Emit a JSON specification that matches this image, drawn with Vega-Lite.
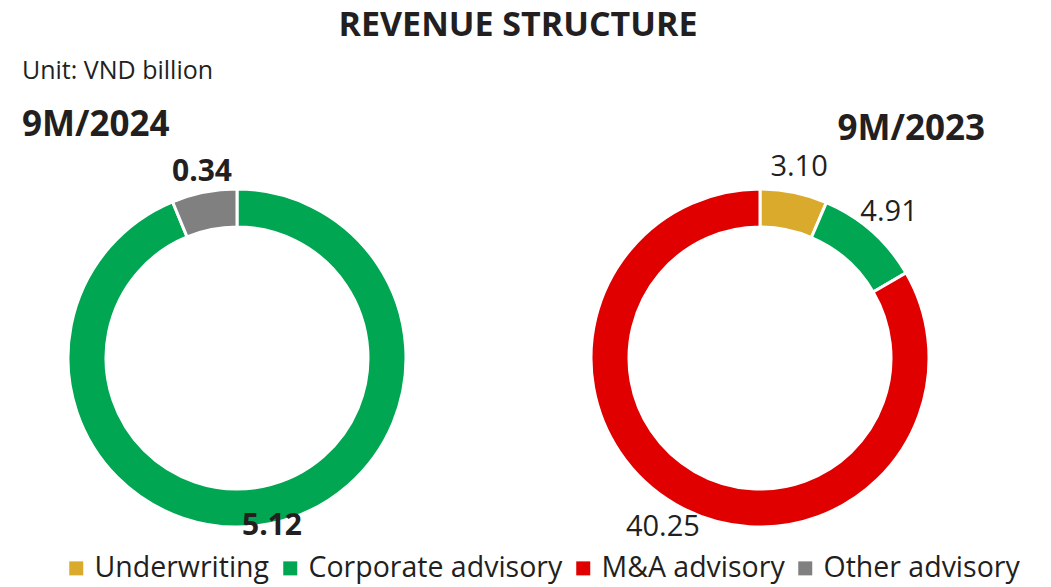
{
  "$schema": "https://vega.github.io/schema/vega-lite/v6.json",
  "autosize": {"type": "pad"},
  "padding": {"left": 22, "top": 9, "right": 0, "bottom": 6},
  "bounds": "flush",
  "spacing": 83,
  "background": "white",
  "title": {"text": "REVENUE STRUCTURE", "anchor": "middle", "font": "Open Sans", "fontSize": 34, "fontWeight": "bold", "color": "#231F20", "dx": -3, "offset": 16},
  "config": {"view": {"stroke": null}, "font": "Open Sans"},
  "datasets": {
    "rev": [
      {"period": "9M/2024", "segment": "Corporate advisory", "value": 5.12, "rank": 1},
      {"period": "9M/2024", "segment": "Other advisory", "value": 0.34, "rank": 2},
      {"period": "9M/2023", "segment": "Underwriting", "value": 3.10, "rank": 1},
      {"period": "9M/2023", "segment": "Corporate advisory", "value": 4.91, "rank": 2},
      {"period": "9M/2023", "segment": "M&A advisory", "value": 40.25, "rank": 3}
    ]
  },
  "hconcat": [
    {
      "width": 430,
      "height": 340,
      "data": {"name": "rev"},
      "transform": [{"filter": "datum.period === '9M/2024'"}],
      "title": {"text": "Unit: VND billion", "subtitle": "9M/2024", "anchor": "start", "font": "Open Sans", "fontSize": 25, "fontWeight": "normal", "color": "#231F20", "subtitleFont": "Open Sans", "subtitleFontSize": 35, "subtitleFontWeight": "bold", "subtitleColor": "#231F20", "subtitlePadding": 24, "offset": 14},
      "encoding": {
        "theta": {"field": "value", "type": "quantitative", "stack": true},
        "order": {"field": "rank", "type": "quantitative"}
      },
      "layer": [
        {
          "mark": {"type": "arc", "outerRadius": 169, "innerRadius": 131, "stroke": "white", "strokeWidth": 3},
          "encoding": {
            "color": {
              "field": "segment", "type": "nominal",
              "scale": {"domain": ["Underwriting", "Corporate advisory", "M&A advisory", "Other advisory"], "range": ["#DAAA2C", "#00A651", "#E00000", "#808080"]},
              "legend": {"orient": "none", "legendX": 40, "legendY": 366, "direction": "horizontal", "columns": 4, "title": null, "symbolType": "square", "symbolSize": 196, "symbolStrokeWidth": 0, "labelFont": "Open Sans", "labelFontSize": 28.5, "labelColor": "#231F20", "labelLimit": 400, "labelOffset": 4, "columnPadding": 6}
            }
          }
        },
        {
          "mark": {"type": "text", "radius": 180, "baseline": "alphabetic", "font": "Open Sans", "fontSize": 30, "fontWeight": "bold", "color": "#231F20"},
          "encoding": {
            "detail": {"field": "segment", "type": "nominal"},
            "text": {"field": "value", "type": "quantitative", "format": ".2f"}
          }
        }
      ]
    },
    {
      "width": 450,
      "height": 340,
      "data": {"name": "rev"},
      "transform": [{"filter": "datum.period === '9M/2023'"}],
      "title": {"text": "9M/2023", "anchor": "end", "font": "Open Sans", "fontSize": 35, "fontWeight": "bold", "color": "#231F20", "offset": 6},
      "encoding": {
        "theta": {"field": "value", "type": "quantitative", "stack": true},
        "order": {"field": "rank", "type": "quantitative"}
      },
      "layer": [
        {
          "mark": {"type": "arc", "outerRadius": 169, "innerRadius": 131, "stroke": "white", "strokeWidth": 3},
          "encoding": {
            "color": {
              "field": "segment", "type": "nominal",
              "scale": {"domain": ["Underwriting", "Corporate advisory", "M&A advisory", "Other advisory"], "range": ["#DAAA2C", "#00A651", "#E00000", "#808080"]},
              "legend": {"orient": "none", "legendX": 40, "legendY": 366, "direction": "horizontal", "columns": 4, "title": null, "symbolType": "square", "symbolSize": 196, "symbolStrokeWidth": 0, "labelFont": "Open Sans", "labelFontSize": 28.5, "labelColor": "#231F20", "labelLimit": 400, "labelOffset": 4, "columnPadding": 6}
            }
          }
        },
        {
          "mark": {"type": "text", "radius": 195, "font": "Open Sans", "fontSize": 29, "fontWeight": "normal", "color": "#231F20"},
          "encoding": {
            "detail": {"field": "segment", "type": "nominal"},
            "text": {"field": "value", "type": "quantitative", "format": ".2f"}
          }
        }
      ]
    }
  ]
}
